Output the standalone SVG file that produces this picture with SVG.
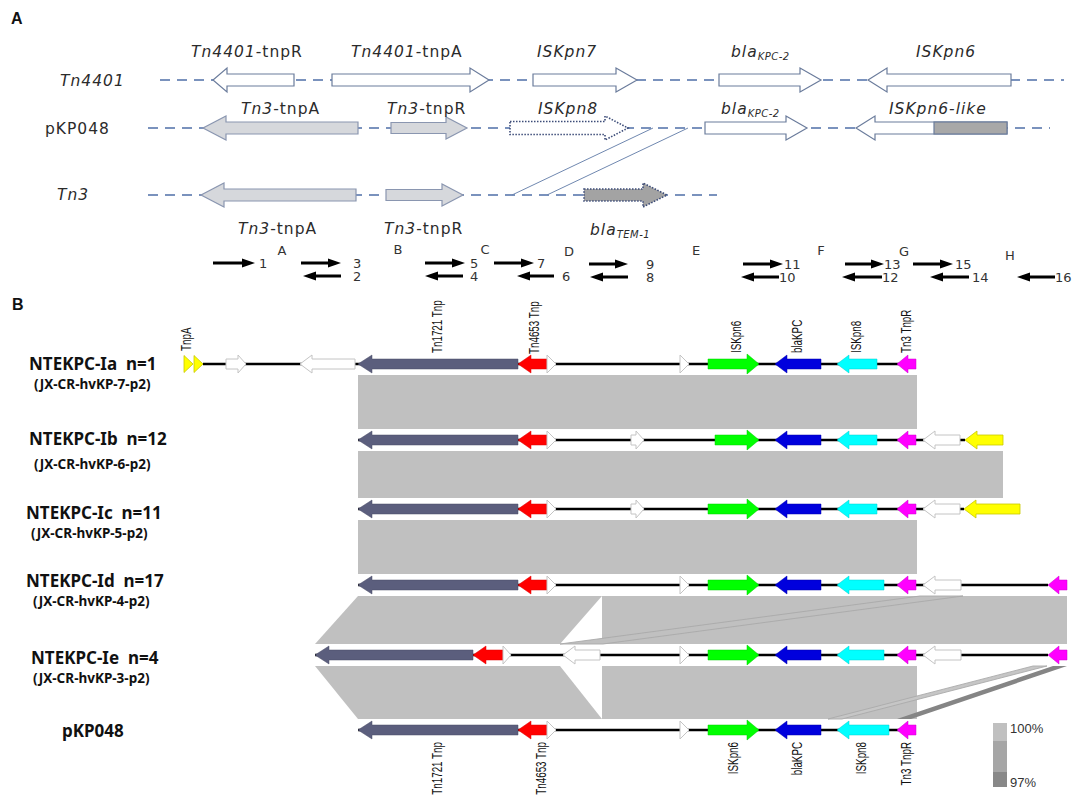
<svg xmlns="http://www.w3.org/2000/svg" width="1084" height="801" viewBox="0 0 1084 801">
<style>
.pl{font-family:"Liberation Sans",Arial,sans-serif;font-weight:bold;font-size:16px;fill:#111}
.at{font-family:"DejaVu Sans",sans-serif;font-size:15.5px;letter-spacing:1px;fill:#2b2b2b}
.it{font-style:italic}
.sub{font-size:10px;font-style:italic;letter-spacing:0.5px}
.num{font-family:"DejaVu Sans",sans-serif;font-size:13px;fill:#333}
.dash{stroke:#4f6fa8;stroke-width:1.6;stroke-dasharray:10 7;fill:none}
.oa{fill:#fff;stroke:#6b7c9c;stroke-width:1.2}
.ga{fill:#d6d8dc;stroke:#8a96b0;stroke-width:1.2}
.dot{fill:#fff;stroke:#3c4c78;stroke-width:1.6;stroke-dasharray:1.5 1.5}
.dotg{fill:#a3a3a3;stroke:#3c4c78;stroke-width:1.6;stroke-dasharray:1.5 1.5}
.ba{fill:#000}
.lab{font-family:"Noto Sans","Open Sans",sans-serif;font-weight:bold;font-size:17px;fill:#111}
.slab{font-family:"Noto Sans","Open Sans",sans-serif;font-weight:bold;font-size:13.5px;fill:#111}
.vt{font-family:"Liberation Sans",Arial,sans-serif;font-size:14px;fill:#111}
.trk{stroke:#000;stroke-width:2.5}
.gb{fill:#c0c0c0}
.slate{fill:#5b5e7d;stroke:#4a4c66;stroke-width:0.5}
.red{fill:#ff0000;stroke:#dd0000;stroke-width:0.5}
.grn{fill:#00ff00;stroke:#00cc00;stroke-width:0.5}
.blu{fill:#0000dd;stroke:#0000aa;stroke-width:0.5}
.cyn{fill:#00ffff;stroke:#00cccc;stroke-width:0.5}
.mag{fill:#ff00ff;stroke:#cc00cc;stroke-width:0.5}
.yel{fill:#ffff00;stroke:#c8c800;stroke-width:0.8}
.wht{fill:#fff;stroke:#c4c4c4;stroke-width:1}
</style>

<!-- ================= PANEL A ================= -->
<text class="pl" x="11" y="24">A</text>

<g id="connectors-A">
  <line class="dash" x1="160" y1="80" x2="1064" y2="80"/>
  <line class="dash" x1="148" y1="128" x2="1050" y2="128"/>
  <line class="dash" x1="148" y1="195" x2="717" y2="195"/>
  <line x1="653" y1="128" x2="512" y2="195" stroke="#7088b0" stroke-width="1"/>
  <line x1="688" y1="128" x2="547" y2="195" stroke="#7088b0" stroke-width="1"/>
</g>

<g id="row-Tn4401">
  <text class="at it" x="60" y="86">Tn4401</text>
  <polygon class="oa" points="294,74 227,74 227,68 213,80 227,92 227,86 294,86"/>
  <polygon class="oa" points="332,74 470,74 470,68 489,80 470,92 470,86 332,86"/>
  <polygon class="oa" points="533,74 616,74 616,68 637,80 616,92 616,86 533,86"/>
  <polygon class="oa" points="719,74 800,74 800,68 821,80 800,92 800,86 719,86"/>
  <polygon class="oa" points="1011,74 887,74 887,68 868,80 887,92 887,86 1011,86"/>
  <text class="at" x="191" y="57"><tspan class="it">Tn4401</tspan>-tnpR</text>
  <text class="at" x="351" y="57"><tspan class="it">Tn4401</tspan>-tnpA</text>
  <text class="at it" x="537" y="57">ISKpn7</text>
  <text class="at" x="731" y="57"><tspan class="it">bla</tspan><tspan class="sub" dy="3">KPC-2</tspan></text>
  <text class="at it" x="916" y="57">ISKpn6</text>
</g>

<g id="row-pKP048-A">
  <text class="at" x="45" y="134">pKP048</text>
  <polygon class="ga" points="358,122 226,122 226,116 203,128 226,140 226,134 358,134"/>
  <polygon class="ga" points="391,122.5 446,122.5 446,117 467,128 446,139 446,133.5 391,133.5"/>
  <polygon class="dot" points="510,121.5 605,121.5 605,116 628,128 605,140 605,134.5 510,134.5"/>
  <polygon class="oa" points="705,122 786,122 786,116 807,128 786,140 786,134 705,134"/>
  <polygon class="oa" points="1007,122 875,122 875,116 856,128 875,140 875,134 1007,134"/>
  <rect x="934" y="122" width="73" height="12" fill="#a8a8a8" stroke="#6b7c9c" stroke-width="1.2"/>
  <text class="at" x="241" y="114"><tspan class="it">Tn3</tspan>-tnpA</text>
  <text class="at" x="387" y="114"><tspan class="it">Tn3</tspan>-tnpR</text>
  <text class="at it" x="538" y="114">ISKpn8</text>
  <text class="at" x="721" y="114"><tspan class="it">bla</tspan><tspan class="sub" dy="3">KPC-2</tspan></text>
  <text class="at it" x="889" y="114">ISKpn6-like</text>
</g>

<g id="row-Tn3">
  <text class="at it" x="57" y="200">Tn3</text>
  <polygon class="ga" points="356,189 224,189 224,183 201,195 224,207 224,201 356,201"/>
  <polygon class="ga" points="386,189.5 442,189.5 442,184 463,195 442,206 442,200.5 386,200.5"/>
  <polygon class="dotg" points="584,189 643,189 643,183 667,195 643,207 643,201 584,201"/>
  <text class="at" x="238" y="234"><tspan class="it">Tn3</tspan>-tnpA</text>
  <text class="at" x="384" y="234"><tspan class="it">Tn3</tspan>-tnpR</text>
  <text class="at" x="590" y="235"><tspan class="it">bla</tspan><tspan class="sub" dy="3">TEM-1</tspan></text>
</g>

<g id="primers">
  <g class="num" text-anchor="middle">
    <text x="282" y="255">A</text><text x="398" y="254">B</text><text x="485" y="254">C</text>
    <text x="569" y="256">D</text><text x="696" y="255">E</text><text x="821" y="255">F</text>
    <text x="904" y="256">G</text><text x="1010" y="260">H</text>
  </g>
  <g class="ba">
    <polygon points="213,261.5 242,261.5 242,258.5 255,263 242,267.5 242,264.5 213,264.5"/>
    <polygon points="301,261.5 328,261.5 328,258.5 341,263 328,267.5 328,264.5 301,264.5"/>
    <polygon points="341,274.5 316,274.5 316,271.5 303,276 316,280.5 316,277.5 341,277.5"/>
    <polygon points="425,261.5 452,261.5 452,258.5 465,263 452,267.5 452,264.5 425,264.5"/>
    <polygon points="463,274.5 438,274.5 438,271.5 425,276 438,280.5 438,277.5 463,277.5"/>
    <polygon points="494,261.5 521,261.5 521,258.5 534,263 521,267.5 521,264.5 494,264.5"/>
    <polygon points="554,274.5 530,274.5 530,271.5 517,276 530,280.5 530,277.5 554,277.5"/>
    <polygon points="589,262.5 615,262.5 615,259.5 628,264 615,268.5 615,265.5 589,265.5"/>
    <polygon points="628,275.5 603,275.5 603,272.5 590,277 603,281.5 603,278.5 628,278.5"/>
    <polygon points="743,262.5 770,262.5 770,259.5 783,264 770,268.5 770,265.5 743,265.5"/>
    <polygon points="779,275.5 754,275.5 754,272.5 741,277 754,281.5 754,278.5 779,278.5"/>
    <polygon points="845,262.5 871,262.5 871,259.5 884,264 871,268.5 871,265.5 845,265.5"/>
    <polygon points="882,275.5 855,275.5 855,272.5 842,277 855,281.5 855,278.5 882,278.5"/>
    <polygon points="913,262.5 940,262.5 940,259.5 953,264 940,268.5 940,265.5 913,265.5"/>
    <polygon points="969,275.5 943,275.5 943,272.5 930,277 943,281.5 943,278.5 969,278.5"/>
    <polygon points="1055,275.5 1030,275.5 1030,272.5 1017,277 1030,281.5 1030,278.5 1055,278.5"/>
  </g>
  <g class="num">
    <text x="259" y="267.5">1</text><text x="353" y="267.5">3</text><text x="353" y="281">2</text>
    <text x="470" y="267.5">5</text><text x="470" y="281">4</text><text x="537" y="267.5">7</text>
    <text x="562" y="281">6</text><text x="646" y="268.5">9</text><text x="646" y="282">8</text>
    <text x="784" y="268.5">11</text><text x="779" y="282">10</text>
    <text x="884" y="268.5">13</text><text x="882" y="282">12</text>
    <text x="955" y="268.5">15</text><text x="972" y="282">14</text>
    <text x="1055" y="282">16</text>
  </g>
</g>

<!-- ================= PANEL B ================= -->
<text class="pl" x="12" y="310">B</text>

<g id="connectors-B">
  <rect class="gb" x="358" y="375" width="559" height="54"/>
  <rect class="gb" x="358" y="451" width="645" height="47"/>
  <rect class="gb" x="358" y="520" width="559" height="54"/>
  <polygon class="gb" points="358,596 602,596 560,644 315,644"/>
  <rect class="gb" x="602" y="596" width="465" height="48"/>
  <polygon points="920,596 963,596 603,644 560,644" fill="#c0c0c0" stroke="#a9a9a9" stroke-width="0.9"/>
  <polygon class="gb" points="315,666 560,666 602,719 358,719"/>
  <rect class="gb" x="602" y="666" width="315" height="53"/>
  <polygon points="1033,666 1047,666 842,719 828,719" fill="#c6c6c6" stroke="#aaaaaa" stroke-width="0.9"/>
  <polygon points="1053,666 1067,666 911,719 897,719" fill="#858585"/>
</g>

<g id="legend">
  <rect x="993" y="723" width="14" height="18" fill="#c0c0c0"/>
  <rect x="993" y="741" width="14" height="31" fill="#a6a6a6"/>
  <rect x="993" y="772" width="14" height="15" fill="#888888"/>
  <text x="1010" y="733" font-family="Liberation Sans, Arial, sans-serif" font-size="13" fill="#333">100%</text>
  <text x="1010" y="787" font-family="Liberation Sans, Arial, sans-serif" font-size="13" fill="#333">97%</text>
</g>

<g id="top-labels" class="vt">
  <text transform="translate(191,351) rotate(-90) scale(0.7,1)">TnpA</text>
  <text transform="translate(442,353) rotate(-90) scale(0.7,1)">Tn1721 Tnp</text>
  <text transform="translate(539,354) rotate(-90) scale(0.7,1)">Tn4653 Tnp</text>
  <text transform="translate(741,353) rotate(-90) scale(0.7,1)">ISKpn6</text>
  <text transform="translate(802,353) rotate(-90) scale(0.7,1)">blaKPC</text>
  <text transform="translate(861,353) rotate(-90) scale(0.7,1)">ISKpn8</text>
  <text transform="translate(911,353) rotate(-90) scale(0.7,1)">Tn3 TnpR</text>
</g>

<g id="node-Ia">
  <text class="lab" x="29" y="370" xml:space="preserve">NTEKPC-Ia  n=1</text>
  <text class="slab" x="34" y="389">(JX-CR-hvKP-7-p2)</text>
  <g transform="translate(0,364)">
    <line class="trk" x1="203" y1="0" x2="916" y2="0"/>
    <polygon class="yel" points="184,-8.5 193,0 184,8.5"/>
    <polygon class="yel" points="194,-8.5 203,0 194,8.5"/>
    <polygon class="wht" points="226,-5 238,-5 238,-9 246,0 238,9 238,5 226,5"/>
    <polygon class="wht" points="355,-5 312,-5 312,-9 300,0 312,9 312,5 355,5"/>
    <polygon class="slate" points="518,-5 372,-5 372,-9 358,0 372,9 372,5 518,5"/>
    <polygon class="red" points="547,-5 531,-5 531,-9 518,0 531,9 531,5 547,5"/>
    <polygon class="wht" points="547,-9 556,0 547,9"/>
    <polygon class="wht" points="680,-9 689,0 680,9"/>
    <polygon class="grn" points="708,-5 747,-5 747,-10 759,0 747,10 747,5 708,5"/>
    <polygon class="blu" points="821,-5 787,-5 787,-9 775,0 787,9 787,5 821,5"/>
    <polygon class="cyn" points="877,-5 849,-5 849,-9 837,0 849,9 849,5 877,5"/>
    <polygon class="mag" points="916,-5 908,-5 908,-9 897,0 908,9 908,5 916,5"/>
  </g>
</g>

<g id="node-Ib">
  <text class="lab" x="29" y="445" xml:space="preserve">NTEKPC-Ib  n=12</text>
  <text class="slab" x="34" y="469">(JX-CR-hvKP-6-p2)</text>
  <g transform="translate(0,440)">
    <line class="trk" x1="358" y1="0" x2="965" y2="0"/>
    <polygon class="slate" points="518,-5 372,-5 372,-9 358,0 372,9 372,5 518,5"/>
    <polygon class="red" points="547,-5 531,-5 531,-9 518,0 531,9 531,5 547,5"/>
    <polygon class="wht" points="547,-9 556,0 547,9"/>
    <polygon class="wht" points="631,-5 636,-5 636,-9 644,0 636,9 636,5 631,5"/>
    <polygon class="grn" points="715,-5 747,-5 747,-10 759,0 747,10 747,5 715,5"/>
    <polygon class="blu" points="821,-5 787,-5 787,-9 775,0 787,9 787,5 821,5"/>
    <polygon class="cyn" points="877,-5 849,-5 849,-9 837,0 849,9 849,5 877,5"/>
    <polygon class="mag" points="916,-5 908,-5 908,-9 897,0 908,9 908,5 916,5"/>
    <polygon class="wht" points="960,-5 935,-5 935,-9 923,0 935,9 935,5 960,5"/>
    <polygon class="yel" points="1003,-5 977,-5 977,-9 965,0 977,9 977,5 1003,5"/>
  </g>
</g>

<g id="node-Ic">
  <text class="lab" x="26" y="519" xml:space="preserve">NTEKPC-Ic  n=11</text>
  <text class="slab" x="31" y="538">(JX-CR-hvKP-5-p2)</text>
  <g transform="translate(0,509)">
    <line class="trk" x1="358" y1="0" x2="964" y2="0"/>
    <polygon class="slate" points="518,-5 372,-5 372,-9 358,0 372,9 372,5 518,5"/>
    <polygon class="red" points="547,-5 531,-5 531,-9 518,0 531,9 531,5 547,5"/>
    <polygon class="wht" points="547,-9 556,0 547,9"/>
    <polygon class="wht" points="631,-5 636,-5 636,-9 644,0 636,9 636,5 631,5"/>
    <polygon class="grn" points="708,-5 747,-5 747,-10 759,0 747,10 747,5 708,5"/>
    <polygon class="blu" points="821,-5 787,-5 787,-9 775,0 787,9 787,5 821,5"/>
    <polygon class="cyn" points="877,-5 849,-5 849,-9 837,0 849,9 849,5 877,5"/>
    <polygon class="mag" points="916,-5 908,-5 908,-9 897,0 908,9 908,5 916,5"/>
    <polygon class="wht" points="960,-5 935,-5 935,-9 923,0 935,9 935,5 960,5"/>
    <polygon class="yel" points="1020,-5 976,-5 976,-9 964,0 976,9 976,5 1020,5"/>
  </g>
</g>

<g id="node-Id">
  <text class="lab" x="26" y="587" xml:space="preserve">NTEKPC-Id  n=17</text>
  <text class="slab" x="33" y="606">(JX-CR-hvKP-4-p2)</text>
  <g transform="translate(0,585)">
    <line class="trk" x1="358" y1="0" x2="1048" y2="0"/>
    <polygon class="slate" points="518,-5 372,-5 372,-9 358,0 372,9 372,5 518,5"/>
    <polygon class="red" points="547,-5 531,-5 531,-9 518,0 531,9 531,5 547,5"/>
    <polygon class="wht" points="547,-9 556,0 547,9"/>
    <polygon class="wht" points="680,-9 689,0 680,9"/>
    <polygon class="grn" points="708,-5 747,-5 747,-10 759,0 747,10 747,5 708,5"/>
    <polygon class="blu" points="821,-5 787,-5 787,-9 775,0 787,9 787,5 821,5"/>
    <polygon class="cyn" points="884,-5 849,-5 849,-9 837,0 849,9 849,5 884,5"/>
    <polygon class="mag" points="916,-5 908,-5 908,-9 897,0 908,9 908,5 916,5"/>
    <polygon class="wht" points="961,-5 935,-5 935,-9 923,0 935,9 935,5 961,5"/>
    <polygon class="mag" points="1067,-5 1059,-5 1059,-9 1048,0 1059,9 1059,5 1067,5"/>
  </g>
</g>

<g id="node-Ie">
  <text class="lab" x="31" y="664" xml:space="preserve">NTEKPC-Ie  n=4</text>
  <text class="slab" x="33" y="683">(JX-CR-hvKP-3-p2)</text>
  <g transform="translate(0,655)">
    <line class="trk" x1="315" y1="0" x2="1048" y2="0"/>
    <polygon class="slate" points="473,-5 329,-5 329,-9 315,0 329,9 329,5 473,5"/>
    <polygon class="red" points="503,-5 486,-5 486,-9 473,0 486,9 486,5 503,5"/>
    <polygon class="wht" points="503,-9 511,0 503,9"/>
    <polygon class="wht" points="600,-5 575,-5 575,-9 563,0 575,9 575,5 600,5"/>
    <polygon class="wht" points="680,-9 689,0 680,9"/>
    <polygon class="grn" points="708,-5 747,-5 747,-10 759,0 747,10 747,5 708,5"/>
    <polygon class="blu" points="821,-5 787,-5 787,-9 775,0 787,9 787,5 821,5"/>
    <polygon class="cyn" points="884,-5 849,-5 849,-9 837,0 849,9 849,5 884,5"/>
    <polygon class="mag" points="916,-5 908,-5 908,-9 897,0 908,9 908,5 916,5"/>
    <polygon class="wht" points="961,-5 935,-5 935,-9 923,0 935,9 935,5 961,5"/>
    <polygon class="mag" points="1067,-5 1059,-5 1059,-9 1048,0 1059,9 1059,5 1067,5"/>
  </g>
</g>

<g id="node-pKP048">
  <text class="lab" x="62" y="737" font-size="19">pKP048</text>
  <g transform="translate(0,730)">
    <line class="trk" x1="358" y1="0" x2="916" y2="0"/>
    <polygon class="slate" points="518,-5 372,-5 372,-9 358,0 372,9 372,5 518,5"/>
    <polygon class="red" points="547,-5 531,-5 531,-9 518,0 531,9 531,5 547,5"/>
    <polygon class="wht" points="547,-9 556,0 547,9"/>
    <polygon class="wht" points="680,-9 689,0 680,9"/>
    <polygon class="grn" points="708,-5 747,-5 747,-10 759,0 747,10 747,5 708,5"/>
    <polygon class="blu" points="821,-5 787,-5 787,-9 775,0 787,9 787,5 821,5"/>
    <polygon class="cyn" points="889,-5 849,-5 849,-9 837,0 849,9 849,5 889,5"/>
    <polygon class="mag" points="916,-5 908,-5 908,-9 897,0 908,9 908,5 916,5"/>
  </g>
  <g class="vt" text-anchor="end">
    <text transform="translate(442,742) rotate(-90) scale(0.7,1)">Tn1721 Tnp</text>
    <text transform="translate(545.5,742) rotate(-90) scale(0.7,1)">Tn4653 Tnp</text>
    <text transform="translate(738,742) rotate(-90) scale(0.7,1)">ISKpn6</text>
    <text transform="translate(802,742) rotate(-90) scale(0.7,1)">blaKPC</text>
    <text transform="translate(866,742) rotate(-90) scale(0.7,1)">ISKpn8</text>
    <text transform="translate(911,742) rotate(-90) scale(0.7,1)">Tn3 TnpR</text>
  </g>
</g>
</svg>
